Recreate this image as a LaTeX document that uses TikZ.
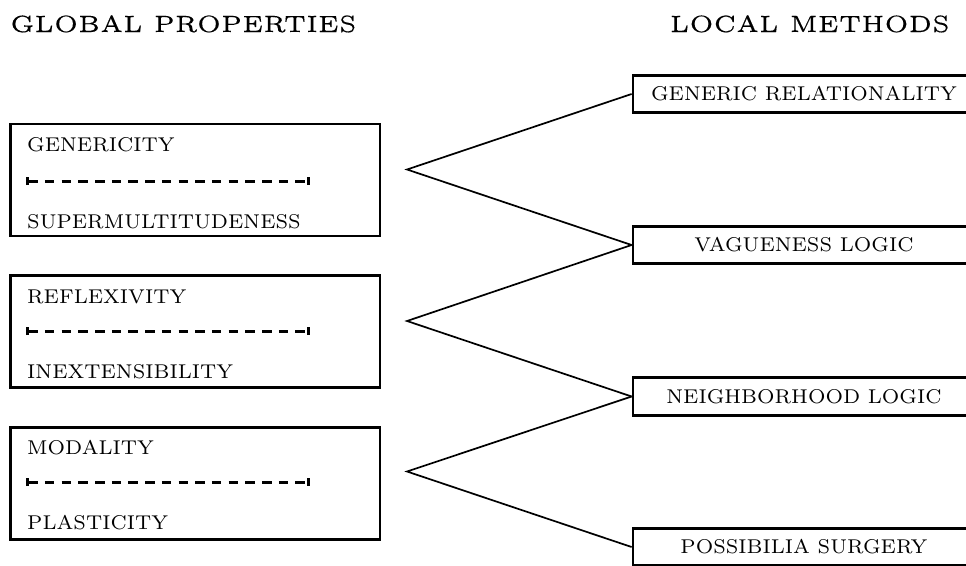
\documentclass[tikz,border=0pt]{standalone}
\usepackage{graphicx}
\usepackage{fontspec}
\newfontfamily\headrm{lmroman5-regular.otf}[FakeBold=0.2]
\newfontfamily\boxrm{lmroman7-regular.otf}
\usetikzlibrary{calc,arrows.meta}
\def\boxfont#1{\scalebox{2.85}{\fontsize{7}{8}\boxrm #1}}
\def\headfont#1{\scalebox{4.7}{\fontsize{5}{6}\headrm #1}}
\tikzset{
	propbox/.style={draw, line width=2.8pt, minimum width=369.5pt, minimum height=112pt, inner sep=0pt},
	methodbox/.style={draw, line width=2.8pt, minimum width=342pt, minimum height=37.5pt, inner sep=0pt},
	label/.style={inner sep=0pt, anchor=base west},
	link/.style={line width=1.7pt, line join=miter},
	divider/.style={line width=3pt, dash pattern=on 9.5pt off 7.2pt, {Bar[width=8pt,line width=3pt]}-{Bar[width=8pt,line width=3pt]}}
}
\begin{document}
\begin{tikzpicture}[x=1pt, y=-1pt]
			%%%%% START %%%%%
			\useasboundingbox (0, 0) rectangle (966, 565);
			
			\node[label] (globalhead) at (10, 32) {\headfont{GLOBAL PROPERTIES}};
			\node[inner sep=0pt, anchor=base east] (localhead) at (950, 32) {\headfont{LOCAL METHODS}};
			
			% global properties
			\node[propbox] (genbox) at (195.3, 180) {};
			\node[label] (genericity) at (27, 151) {\boxfont{GENERICITY}};
			\draw[divider] (26, 181) -- (310, 181);
			\node[label] (supermult) at (27, 228) {\boxfont{SUPERMULTITUDENESS}};
			
			\node[propbox] (reflbox) at (195.3, 331.5) {};
			\node[label] (reflexivity) at (27, 303) {\boxfont{REFLEXIVITY}};
			\draw[divider] (26, 331) -- (310, 331);
			\node[label] (inext) at (27, 378) {\boxfont{INEXTENSIBILITY}};
			
			\node[propbox] (modbox) at (195.3, 483.5) {};
			\node[label] (modality) at (27, 454) {\boxfont{MODALITY}};
			\draw[divider] (26, 482) -- (310, 482);
			\node[label] (plasticity) at (27, 529) {\boxfont{PLASTICITY}};
			
			% local methods
			\node[methodbox] (genrel) at (804, 94) {\boxfont{GENERIC RELATIONALITY}};
			\node[methodbox] (vague) at (804, 245) {\boxfont{VAGUENESS LOGIC}};
			\node[methodbox] (neigh) at (804, 396.5) {\boxfont{NEIGHBORHOOD LOGIC}};
			\node[methodbox] (possib) at (804, 547) {\boxfont{POSSIBILIA SURGERY}};
			
			\coordinate (apex1) at (407, 169.5);
			\coordinate (apex2) at (407, 321);
			\coordinate (apex3) at (407, 471.5);
			
			\draw[link] (genrel.west) -- (apex1) -- (vague.west);
			\draw[link] (vague.west) -- (apex2) -- (neigh.west);
			\draw[link] (neigh.west) -- (apex3) -- (possib.west);
			
			%%%%% END %%%%%
		\end{tikzpicture}
\end{document}
